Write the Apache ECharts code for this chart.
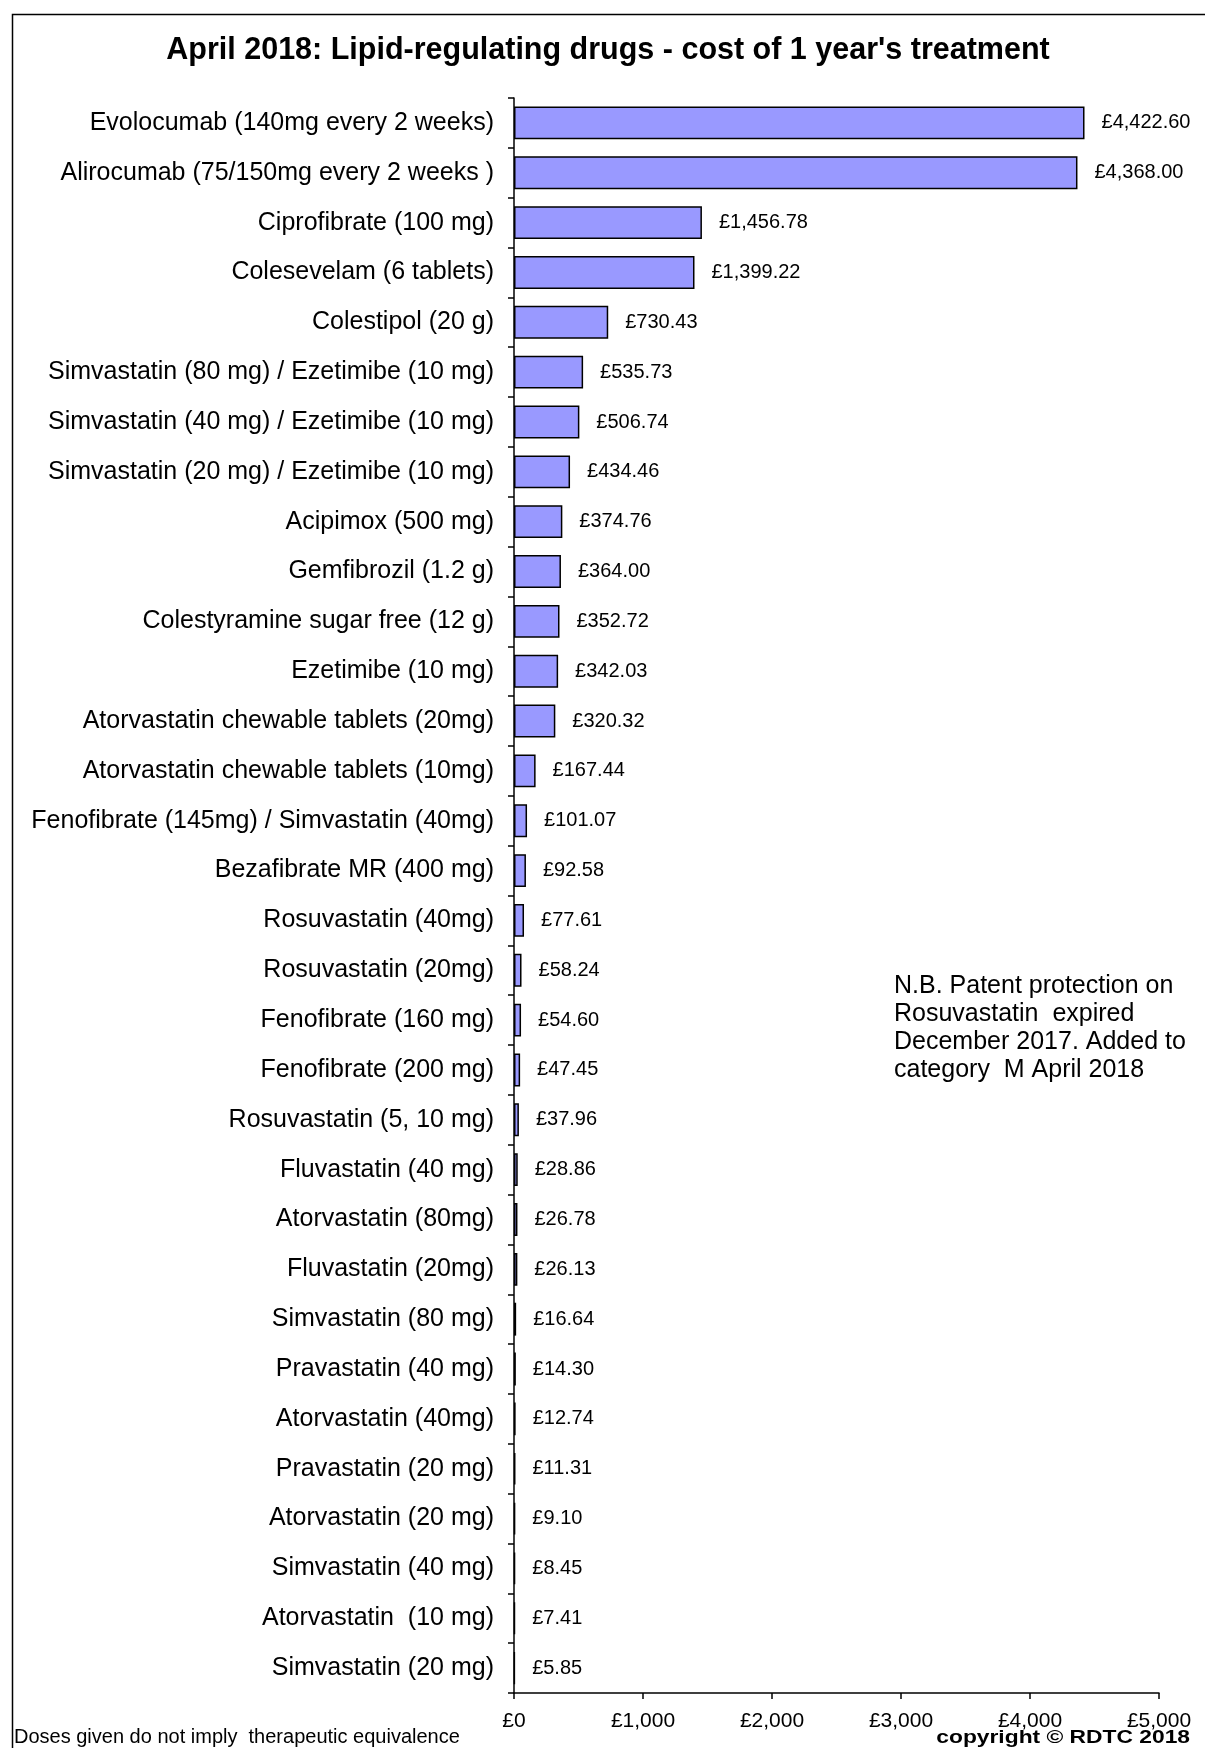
<!DOCTYPE html>
<html><head><meta charset="utf-8">
<script src="https://cdn.jsdelivr.net/npm/echarts@6/dist/echarts.min.js"></script>
<style>html,body{margin:0;padding:0;background:#fff}#c{width:1205px;height:1748px}</style>
</head><body><div id="c"></div>
<script>
const categories = [
 "Evolocumab (140mg every 2 weeks)",
 "Alirocumab (75/150mg every 2 weeks )",
 "Ciprofibrate (100 mg)",
 "Colesevelam (6 tablets)",
 "Colestipol (20 g)",
 "Simvastatin (80 mg) / Ezetimibe (10 mg)",
 "Simvastatin (40 mg) / Ezetimibe (10 mg)",
 "Simvastatin (20 mg) / Ezetimibe (10 mg)",
 "Acipimox (500 mg)",
 "Gemfibrozil (1.2 g)",
 "Colestyramine sugar free (12 g)",
 "Ezetimibe (10 mg)",
 "Atorvastatin chewable tablets (20mg)",
 "Atorvastatin chewable tablets (10mg)",
 "Fenofibrate (145mg) / Simvastatin (40mg)",
 "Bezafibrate MR (400 mg)",
 "Rosuvastatin (40mg)",
 "Rosuvastatin (20mg)",
 "Fenofibrate (160 mg)",
 "Fenofibrate (200 mg)",
 "Rosuvastatin (5, 10 mg)",
 "Fluvastatin (40 mg)",
 "Atorvastatin (80mg)",
 "Fluvastatin (20mg)",
 "Simvastatin (80 mg)",
 "Pravastatin (40 mg)",
 "Atorvastatin (40mg)",
 "Pravastatin (20 mg)",
 "Atorvastatin (20 mg)",
 "Simvastatin (40 mg)",
 "Atorvastatin  (10 mg)",
 "Simvastatin (20 mg)"
];
const costs = [4422.60, 4368.00, 1456.78, 1399.22, 730.43, 535.73, 506.74, 434.46, 374.76, 364.00, 352.72, 342.03, 320.32, 167.44, 101.07, 92.58, 77.61, 58.24, 54.60, 47.45, 37.96, 28.86, 26.78, 26.13, 16.64, 14.30, 12.74, 11.31, 9.10, 8.45, 7.41, 5.85];
const xTicks = [0, 1000, 2000, 3000, 4000, 5000];
const titleText = "April 2018: Lipid-regulating drugs - cost of 1 year's treatment";
const noteLines = ["N.B. Patent protection on", "Rosuvastatin  expired", "December 2017. Added to", "category  M April 2018"];
const footLeft = "Doses given do not imply  therapeutic equivalence";
const footRight = "copyright \u00A9 RDTC 2018";

const FONT = "Liberation Sans, Arial, sans-serif";
function money(v, d) {
  return "\u00A3" + v.toLocaleString("en-GB", {minimumFractionDigits: d, maximumFractionDigits: d});
}
const chart = echarts.init(document.getElementById('c'), null, {renderer: 'canvas'});
chart.setOption({
  animation: false,
  backgroundColor: '#fff',
  textStyle: {fontFamily: FONT},
  grid: {left: 514, right: 46, top: 98, bottom: 55, containLabel: false},
  xAxis: {
    type: 'value', min: xTicks[0], max: xTicks[xTicks.length - 1], interval: 1000,
    splitLine: {show: false},
    axisLine: {show: true, lineStyle: {color: '#000', width: 1.5}},
    axisTick: {show: true, length: 6, lineStyle: {color: '#000', width: 1.5}},
    axisLabel: {color: '#000', fontSize: 21, fontFamily: FONT, margin: 18, formatter: v => money(v, 0)}
  },
  yAxis: {
    type: 'category', data: categories, inverse: true,
    axisLine: {show: true, onZero: false, lineStyle: {color: '#000', width: 1.5}},
    axisTick: {show: true, length: 6, lineStyle: {color: '#000', width: 1.5}},
    axisLabel: {color: '#000', fontSize: 25, fontFamily: FONT, margin: 20}
  },
  series: [{
    type: 'bar', data: costs, barCategoryGap: '34%',
    itemStyle: {color: '#9999FF', borderColor: '#000', borderWidth: 1.5},
    label: {show: true, position: 'right', distance: 17, color: '#000', fontSize: 20, fontFamily: FONT,
      formatter: p => money(p.value, 2)}
  }],
  graphic: [
    {type: 'rect', left: 10, top: 12, shape: {width: 1300, height: 1900}, style: {fill: 'none', stroke: '#000', lineWidth: 1.5}, silent: true},
    {type: 'text', x: 608, y: 51, style: {text: titleText, font: "bold 30.5px " + FONT, fill: '#000', textAlign: 'center', textVerticalAlign: 'middle'}},
    {type: 'text', x: 894, y: 972, style: {text: noteLines.join("\n"), font: "25px " + FONT, lineHeight: 28, fill: '#000', textAlign: 'left', textVerticalAlign: 'top'}},
    {type: 'text', x: 14, y: 1737, style: {text: footLeft, font: "20px " + FONT, fill: '#000', textAlign: 'left', textVerticalAlign: 'middle'}},
    {type: 'text', x: 1190, y: 1738, scaleX: 1.2, originX: 0, originY: 0,
     style: {text: footRight, font: "bold 19px " + FONT, fill: '#000', textAlign: 'right', textVerticalAlign: 'middle'}}
  ]
});
</script></body></html>
